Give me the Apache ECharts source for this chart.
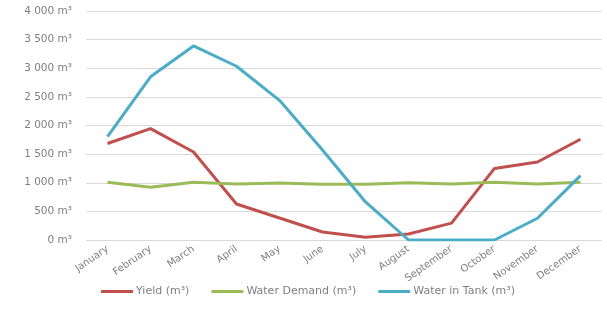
<!DOCTYPE html>
<html><head><meta charset="utf-8">
<script src="https://cdn.jsdelivr.net/npm/echarts@6/dist/echarts.min.js"></script>
<style>html,body{margin:0;padding:0;background:#fff}#c{width:607px;height:311px}</style>
</head><body><div id="c"></div>
<script>
const months = ['January','February','March','April','May','June','July','August','September','October','November','December'];
const yieldVals = [1685, 1945, 1537, 629, 384, 140, 47, 105, 295, 1250, 1362, 1760];
const demandVals = [1007, 920, 1007, 978, 996, 975, 972, 1001, 978, 1007, 978, 1007];
const tankVals = [1806, 2850, 3389, 3035, 2440, 1572, 664, 0, 0, 0, 380, 1124];
const yTicks = [0, 500, 1000, 1500, 2000, 2500, 3000, 3500, 4000];
const seriesNames = ['Yield (m³)', 'Water Demand (m³)', 'Water in Tank (m³)'];
const colors = ['#C0504D', '#9BBB59', '#4BACC6'];

const fmt = v => String(v).replace(/\B(?=(\d{3})+(?!\d))/g, ' ') + ' m³';
const font = 'DejaVu Sans';
const chart = echarts.init(document.getElementById('c'));
chart.setOption({
  animation: false,
  color: colors,
  textStyle: {fontFamily: font},
  grid: {left: 86, right: 5, top: 11, bottom: 71, containLabel: false},
  legend: {
    left: 96, top: 281, itemWidth: 32, itemHeight: 3, itemGap: 22, icon: 'rect',
    textStyle: {fontFamily: font, fontSize: 11, color: '#7F7F7F', padding: [0, 0, 0, -2]},
    data: seriesNames
  },
  xAxis: {
    type: 'category', data: months, boundaryGap: true,
    axisLine: {show: false}, axisTick: {show: false},
    axisLabel: {rotate: 35, fontSize: 10, color: '#808080', margin: 8, interval: 0, fontFamily: font}
  },
  yAxis: {
    type: 'value', min: yTicks[0], max: yTicks[yTicks.length-1], interval: 500,
    axisLine: {show: false}, axisTick: {show: false},
    splitLine: {lineStyle: {color: '#D9D9D9', width: 1}},
    axisLabel: {formatter: fmt, fontSize: 10.5, color: '#808080', margin: 14, fontFamily: font}
  },
  series: [
    {name: seriesNames[0], type: 'line', data: yieldVals, showSymbol: false, lineStyle: {width: 3}},
    {name: seriesNames[1], type: 'line', data: demandVals, showSymbol: false, lineStyle: {width: 3}},
    {name: seriesNames[2], type: 'line', data: tankVals, showSymbol: false, lineStyle: {width: 3}}
  ]
});
</script></body></html>
